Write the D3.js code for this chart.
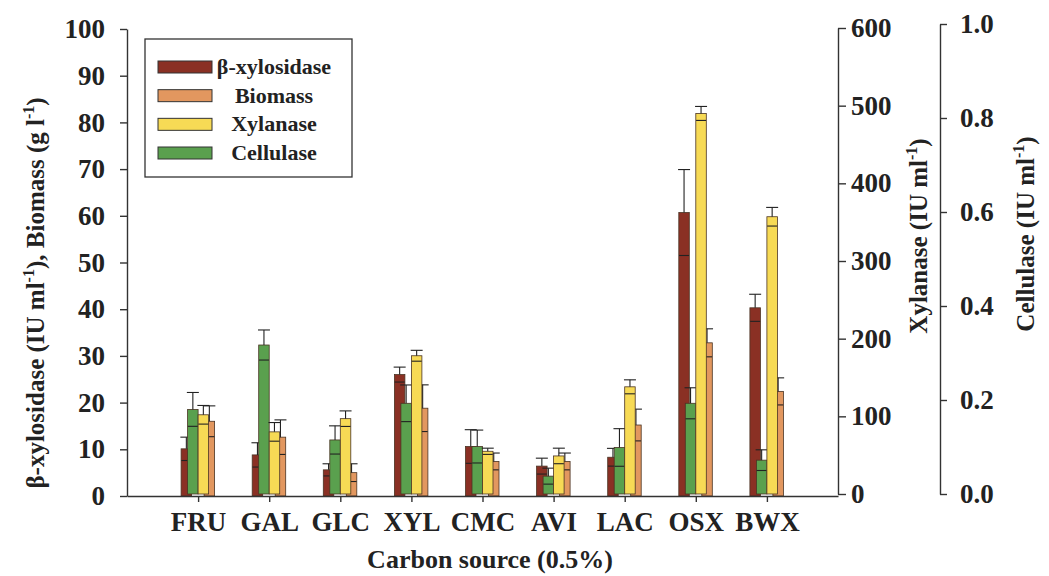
<!DOCTYPE html>
<html>
<head>
<meta charset="utf-8">
<script src="https://cdn.jsdelivr.net/npm/d3@7"></script>
<style>
  body { margin: 0; background: #fff; }
  svg { display: block; }
  text { font-family: "Liberation Serif", "Times New Roman", serif; font-weight: bold; fill: #222; }
</style>
</head>
<body>
<svg id="chart" width="1049" height="576"></svg>
<script>
// Carbon sources tested
const categories = ["FRU", "GAL", "GLC", "XYL", "CMC", "AVI", "LAC", "OSX", "BWX"];

// β-xylosidase (IU ml-1), left axis
const xylosidase    = [10.1, 8.8, 5.6, 26.0, 10.6, 6.4, 8.3, 60.7, 40.3];
const xylosidaseErr = [2.5, 2.6, 1.3, 1.6, 3.6, 1.7, 1.9, 9.2, 2.9];
// Biomass (g l-1), left axis
const biomass    = [16.0, 12.6, 5.0, 18.8, 7.4, 7.4, 15.2, 32.8, 22.4];
const biomassErr = [3.3, 3.7, 1.9, 5.0, 1.8, 1.8, 3.4, 3.0, 2.9];
// Xylanase (IU ml-1), first right axis
const xylanase    = [102, 80, 97, 178, 55, 49, 138, 490, 357];
const xylanaseErr = [12, 12, 10, 7, 4, 10, 9, 9, 12];
// Cellulase (IU ml-1), second right axis
const cellulase    = [0.180, 0.317, 0.115, 0.193, 0.101, 0.038, 0.099, 0.193, 0.072];
const cellulaseErr = [0.036, 0.032, 0.030, 0.039, 0.035, 0.017, 0.040, 0.033, 0.022];

// Tick values
const leftTicks = [0, 10, 20, 30, 40, 50, 60, 70, 80, 90, 100];
const xylTicks  = [0, 100, 200, 300, 400, 500, 600];
const celTicks  = [0, 0.2, 0.4, 0.6, 0.8, 1.0];

const legendLabels = ["β-xylosidase", "Biomass", "Xylanase", "Cellulase"];

const svg = d3.select("#chart");

const x  = d3.scalePoint().domain(categories).range([127, 838]).padding(1);
const yL = d3.scaleLinear().domain([0, 100]).range([496, 29]);
const yX = d3.scaleLinear().domain([0, 600]).range([494, 28]);
const yC = d3.scaleLinear().domain([0, 1]).range([494, 24]);

const colors = {
  xylosidase: "#8a3024",
  biomass: "#e2975f",
  xylanase: "#f7da55",
  cellulase: "#5aa04e"
};

// Bars overlap in pairs: brown behind green, orange behind yellow
const barW = 10.5;
const series = [
  { key: "xylosidase", vals: xylosidase, errs: xylosidaseErr, y: yL, dx: -17 },
  { key: "cellulase",  vals: cellulase,  errs: cellulaseErr,  y: yC, dx: -10.5 },
  { key: "biomass",    vals: biomass,    errs: biomassErr,    y: yL, dx: 6 },
  { key: "xylanase",   vals: xylanase,   errs: xylanaseErr,   y: yX, dx: 0 }
];

const plot = svg.append("g");
series.forEach(s => {
  const g = plot.append("g");
  const rows = categories.map((c, i) => ({ c, v: s.vals[i], e: s.errs[i] }));
  g.selectAll("rect").data(rows).join("rect")
    .attr("x", d => x(d.c) + s.dx)
    .attr("width", barW)
    .attr("y", d => s.y(d.v))
    .attr("height", d => s.y(0) - s.y(d.v))
    .attr("fill", colors[s.key])
    .attr("stroke", "#4a3424")
    .attr("stroke-width", 0.8);
  const eb = g.selectAll("g.err").data(rows).join("g").attr("class", "err")
    .attr("stroke", "#222").attr("stroke-width", 1.1);
  const cx = d => x(d.c) + s.dx + barW / 2;
  eb.append("line")
    .attr("x1", cx).attr("x2", cx)
    .attr("y1", d => s.y(d.v)).attr("y2", d => s.y(d.v + d.e));
  eb.append("line")
    .attr("x1", d => cx(d) - 6).attr("x2", d => cx(d) + 6)
    .attr("y1", d => s.y(d.v + d.e)).attr("y2", d => s.y(d.v + d.e));
  eb.append("line")
    .attr("x1", d => cx(d) - 5).attr("x2", d => cx(d) + 5)
    .attr("y1", d => s.y(d.v - d.e)).attr("y2", d => s.y(d.v - d.e));
});

// Axes
const axisStyle = g => {
  g.selectAll("path, line").attr("stroke", "#333").attr("stroke-width", 1.4);
  g.selectAll("text").attr("fill", "#222")
    .style("font-family", "'Liberation Serif', 'Times New Roman', serif")
    .style("font-weight", "bold");
};

svg.append("g").attr("transform", "translate(127,0)")
  .call(d3.axisLeft(yL).tickValues(leftTicks).tickSize(7).tickSizeOuter(0).tickPadding(15))
  .call(axisStyle)
  .call(g => g.selectAll("text").attr("font-size", 27));

svg.append("g").attr("transform", "translate(838,0)")
  .call(d3.axisRight(yX).tickValues(xylTicks).tickSize(8).tickSizeOuter(0).tickPadding(5))
  .call(axisStyle)
  .call(g => g.selectAll("text").attr("font-size", 27));

svg.append("g").attr("transform", "translate(940,0)")
  .call(d3.axisRight(yC).tickValues(celTicks).tickSize(7).tickSizeOuter(0).tickPadding(13).tickFormat(d3.format(".1f")))
  .call(axisStyle)
  .call(g => g.selectAll("text").attr("font-size", 27));

svg.append("g").attr("transform", "translate(0,496)")
  .call(d3.axisBottom(x).tickSize(6).tickSizeOuter(0).tickPadding(10))
  .call(axisStyle)
  .call(g => g.selectAll("text").attr("font-size", 27));

// Axis titles
svg.append("text")
  .attr("transform", "translate(44,293) rotate(-90)")
  .attr("text-anchor", "middle").attr("font-size", 25)
  .call(t => {
    t.append("tspan").text("β-xylosidase (IU ml");
    t.append("tspan").attr("dy", -10).attr("font-size", 16).text("-1");
    t.append("tspan").attr("dy", 10).text("), Biomass (g l");
    t.append("tspan").attr("dy", -10).attr("font-size", 16).text("-1");
    t.append("tspan").attr("dy", 10).text(")");
  });

svg.append("text")
  .attr("transform", "translate(927,236) rotate(-90)")
  .attr("text-anchor", "middle").attr("font-size", 25)
  .call(t => {
    t.append("tspan").text("Xylanase (IU ml");
    t.append("tspan").attr("dy", -10).attr("font-size", 16).text("-1");
    t.append("tspan").attr("dy", 10).text(")");
  });

svg.append("text")
  .attr("transform", "translate(1034,234) rotate(-90)")
  .attr("text-anchor", "middle").attr("font-size", 25)
  .call(t => {
    t.append("tspan").text("Cellulase (IU ml");
    t.append("tspan").attr("dy", -10).attr("font-size", 16).text("-1");
    t.append("tspan").attr("dy", 10).text(")");
  });

svg.append("text")
  .attr("x", 490).attr("y", 568)
  .attr("text-anchor", "middle").attr("font-size", 26)
  .text("Carbon source (0.5%)");

// Legend
const legend = svg.append("g");
legend.append("rect")
  .attr("x", 145).attr("y", 39).attr("width", 207).attr("height", 138)
  .attr("fill", "#fff").attr("stroke", "#333").attr("stroke-width", 1.3);
const legendKeys = ["xylosidase", "biomass", "xylanase", "cellulase"];
const ly = d3.scalePoint().domain(legendKeys).range([67, 153]);
legend.selectAll("rect.sw").data(legendKeys).join("rect").attr("class", "sw")
  .attr("x", 158).attr("width", 54)
  .attr("y", d => ly(d) - 6).attr("height", 12)
  .attr("fill", d => colors[d]).attr("stroke", "#333").attr("stroke-width", 1);
legend.selectAll("text").data(legendKeys).join("text")
  .attr("x", 274).attr("y", d => ly(d) + 7)
  .attr("text-anchor", "middle").attr("font-size", 22)
  .text((d, i) => legendLabels[i]);
</script>
</body>
</html>
